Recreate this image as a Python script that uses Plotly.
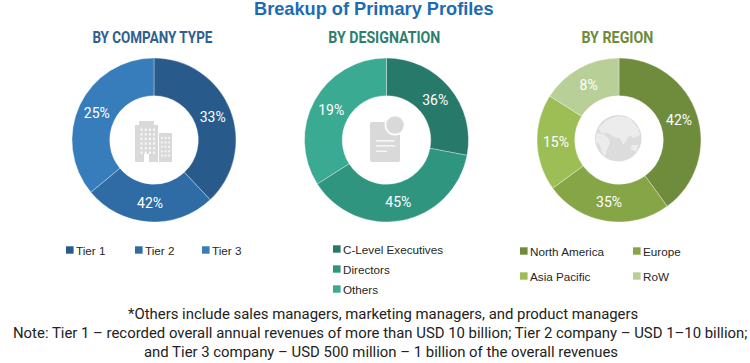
import plotly.graph_objects as go

W, H = 750, 363

title_text = "Breakup of Primary Profiles"

company_labels = ["Tier 1", "Tier 2", "Tier 3"]
company_shares = [38, 26, 36]          # slice sizes as drawn in the picture
company_text = ["33%", "42%", "25%"]   # percentages as printed in the picture
company_colors = ["#285A8C", "#2F6CA5", "#377DBB"]

designation_labels = ["C-Level Executives", "Directors", "Others"]
designation_shares = [28, 38, 34]
designation_text = ["36%", "45%", "19%"]
designation_colors = ["#277A69", "#30957F", "#3BAA92"]

region_labels = ["North America", "Europe", "Asia Pacific", "RoW"]
region_shares = [40, 25, 19, 16]
region_text = ["42%", "35%", "15%", "8%"]
region_colors = ["#6F8B3C", "#86A547", "#9DBE54", "#B9CF98"]

footnotes = [
    "*Others include sales managers, marketing managers, and product managers",
    "Note: Tier 1 – recorded overall annual revenues of more than USD 10 billion; Tier 2 company – USD 1–10 billion;",
    "and Tier 3 company – USD 500 million – 1 billion of the overall revenues",
]

TEXT_FONT = "Roboto"
GREY = "#D9D9D9"


def px(x):
    return x / W


def py(y):
    return 1 - y / H


fig = go.Figure()
R = 82
for cx, shares, names, text_vals, colors in [
    (154, company_shares, company_labels, company_text, company_colors),
    (386.5, designation_shares, designation_labels, designation_text, designation_colors),
    (619, region_shares, region_labels, region_text, region_colors),
]:
    fig.add_trace(go.Pie(
        values=shares, labels=names, text=text_vals, textinfo="text",
        textposition="inside", insidetextorientation="horizontal",
        textfont=dict(color="white", size=14, family=TEXT_FONT),
        sort=False, direction="clockwise", rotation=0, hole=0.54,
        marker=dict(colors=colors, line=dict(color="rgba(255,255,255,0.55)", width=0.6)),
        domain=dict(x=[px(cx - R), px(cx + R)], y=[py(140 + R), py(140 - R)]),
        showlegend=False, hoverinfo="label+text",
    ))

shapes = []
annotations = []


def rect(x0, y0, x1, y1, color):
    shapes.append(dict(type="rect", xref="paper", yref="paper", x0=px(x0), x1=px(x1),
                       y0=py(y1), y1=py(y0), fillcolor=color, line=dict(width=0)))


def circle(cx, cy, r, color):
    shapes.append(dict(type="circle", xref="paper", yref="paper", x0=px(cx - r), x1=px(cx + r),
                       y0=py(cy + r), y1=py(cy - r), fillcolor=color, line=dict(width=0)))


def poly(points, color):
    d = "M" + " L".join(f"{px(x):.5f},{py(y):.5f}" for x, y in points) + " Z"
    shapes.append(dict(type="path", xref="paper", yref="paper", path=d, fillcolor=color,
                       line=dict(width=0)))


def text(x, y, s, size, color, family=TEXT_FONT, anchor="center"):
    annotations.append(dict(x=px(x), y=py(y), xref="paper", yref="paper", text=s, showarrow=False,
                            xanchor=anchor, yanchor="middle",
                            font=dict(size=size, color=color, family=family),
                            borderpad=0, borderwidth=0))


# Headings
text(374, 9, f"<b>{title_text}</b>", 18.2, "#1C6CB5", "Liberation Sans")
text(152, 38, "<b>BY COMPANY TYPE</b>", 16, "#2E5F8F", "Roboto")
text(384, 38, "<b>BY DESIGNATION</b>", 16, "#2E7F6E", "Roboto")
text(617, 38, "<b>BY REGION</b>", 16, "#6F8B3C", "Roboto")

# Legends
def legend(items):
    for sx, sy, label, color in items:
        rect(sx, sy - 3.7, sx + 7.6, sy + 3.7, color)
        text(sx + 10, sy, label, 11.7, "#262626", "Liberation Sans", "left")


legend([(66, 250, company_labels[0], company_colors[0]),
        (135, 250, company_labels[1], company_colors[1]),
        (202, 250, company_labels[2], company_colors[2])])
legend([(333, 249, designation_labels[0], designation_colors[0]),
        (333, 269, designation_labels[1], designation_colors[1]),
        (333, 289, designation_labels[2], designation_colors[2])])
legend([(520, 251, region_labels[0], region_colors[0]),
        (633, 251, region_labels[1], region_colors[1]),
        (520, 276, region_labels[2], region_colors[2]),
        (633, 276, region_labels[3], region_colors[3])])

# Footnotes
for x, y, line in zip([382.5, 379.5, 381], [314, 333, 352], footnotes):
    text(x, y, line, 14.9, "#222222")

# Building icon
rect(139, 121, 154, 126, GREY)
rect(135, 125, 158, 162, GREY)
rect(159, 133, 172, 162, GREY)
for row in range(6):
    for col in range(4):
        rect(140.5 + col * 4.2, 128.5 + row * 4.6, 142.5 + col * 4.2, 131 + row * 4.6, "#F7F7F7")
    if row < 5:
        for col in range(3):
            rect(161 + col * 3.6, 137 + row * 4.4, 162.8 + col * 3.6, 139 + row * 4.4, "#F7F7F7")
rect(144, 154, 149, 162, "#FFFFFF")

# Document icon
shapes.append(dict(
    type="path", xref="paper", yref="paper", fillcolor=GREY, line=dict(width=0),
    path=(f"M{px(372)},{py(122)} L{px(398)},{py(122)} Q{px(400)},{py(122)} {px(400)},{py(124)} "
          f"L{px(400)},{py(160)} Q{px(400)},{py(162)} {px(398)},{py(162)} L{px(372)},{py(162)} "
          f"Q{px(370)},{py(162)} {px(370)},{py(160)} L{px(370)},{py(124)} Q{px(370)},{py(122)} {px(372)},{py(122)} Z"),
))
circle(395, 125, 10.5, "#FFFFFF")
circle(395, 125, 8.8, GREY)
rect(376, 140, 395, 141.6, "#F5F5F5")
rect(376, 145, 395, 146.6, "#F5F5F5")
rect(376, 150.5, 387, 152.1, "#F5F5F5")

# Globe icon: pale land on a light grey disc
circle(618.3, 138.3, 23.3, "#DCDCDC")
LAND = "#ECECEC"
poly([(598.3, 128.3), (606.7, 120), (618.3, 116), (630, 118.3), (638.3, 128.3), (640, 135),
      (633.3, 138.3), (630, 135), (626.7, 140), (623.3, 145), (620, 138.3), (613.3, 136.7),
      (608.3, 133.3), (601.7, 133.3)], LAND)
poly([(596.7, 133.3), (603.3, 134), (608.3, 138.3), (610, 143.3), (606.7, 150), (605, 156.7),
      (601.7, 151.7), (600, 145), (595.7, 141.7)], LAND)
poly([(631.7, 145), (638.3, 145), (636.7, 151.7), (631, 149.3)], LAND)

fig.update_layout(
    width=W, height=H, margin=dict(l=0, r=0, t=0, b=0), autosize=False,
    paper_bgcolor="white", plot_bgcolor="white",
    shapes=shapes, annotations=annotations,
)

# Page margin off; the three headings are set in a condensed cut, as in the reference.
post = """
document.body.style.margin = '0';
var widths = {'BY COMPANY TYPE': 120, 'BY DESIGNATION': 112, 'BY REGION': 72};
document.querySelectorAll('.annotation-text').forEach(function (t) {
  var w = widths[t.textContent];
  if (w) { t.setAttribute('textLength', w); t.setAttribute('lengthAdjust', 'spacingAndGlyphs'); }
});
"""
fig.write_html("out.html", config=dict(displayModeBar=False), post_script=post)
